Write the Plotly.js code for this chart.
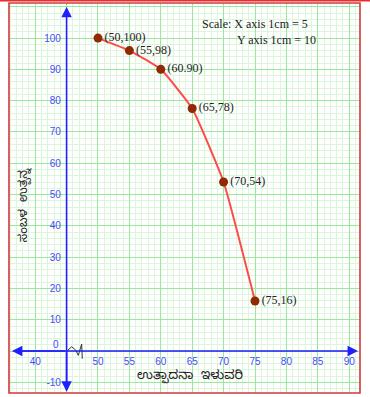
<!DOCTYPE html>
<html>
<head>
<meta charset="utf-8">
<script src="https://cdn.plot.ly/plotly-3.0.1.min.js"></script>
<style>html,body{margin:0;padding:0;background:#fff;}#chart{width:370px;height:397px;}</style>
</head>
<body>
<div id="chart"></div>
<script>
// ---- data ----
const xValues = [50, 55, 60, 65, 70, 75];
const yValues = [100, 96, 90, 77.5, 54, 16];
const pointLabels = ["(50,100)", "(55,98)", "(60.90)", "(65,78)", "(70,54)", "(75,16)"];
const xTickVals = [40, 45, 50, 55, 60, 65, 70, 75, 80, 85, 90];
const xTickText = ["40", "", "50", "55", "60", "65", "70", "75", "80", "85", "90"];
const yTickVals = [-10, 0, 10, 20, 30, 40, 50, 60, 70, 80, 90, 100, 110];
const yTickText = ["-10", "", "10", "20", "30", "40", "50", "60", "70", "80", "90", "100", ""];
const xTitle = "ಉತ್ಪಾದನಾ  ಇಳುವರಿ";
const yTitle = "ಸಂಬಳ  ಉತ್ಪನ್ನ";
const scaleLines = ["Scale: X axis 1cm = 5", "Y axis 1cm = 10"];

const X0 = 35.83, X1 = 91.72, Y0 = -13.4, Y1 = 111.2;
const axisBlue = "#1f1fff";
const tickBlue = "#4a4aff";

const trace = {
  x: xValues, y: yValues, text: pointLabels,
  type: "scatter", mode: "lines+markers+text",
  line: {color: "#ff4a4a", width: 2, shape: "spline", smoothing: 0.4},
  marker: {color: "#8f2a05", size: 9},
  textposition: "middle right",
  textfont: {family: "Liberation Serif, Times New Roman, serif", size: 12, color: "#222"},
  cliponaxis: false, hoverinfo: "none"
};

const arrowCommon = {xref: "x", yref: "y", axref: "x", ayref: "y", showarrow: true,
  arrowhead: 2, arrowsize: 1.3, arrowwidth: 1.6, arrowcolor: axisBlue, text: ""};

const layout = {
  width: 370, height: 397,
  margin: {l: 9, r: 10, t: 3, b: 4},
  paper_bgcolor: "#fff", plot_bgcolor: "#fff",
  showlegend: false,
  xaxis: {
    range: [X0, X1], tickmode: "array", tickvals: xTickVals, ticktext: xTickText,
    showgrid: true, gridcolor: "#9be89b", gridwidth: 1,
    minor: {dtick: 1, tick0: 0, showgrid: true, gridcolor: "#dcf6dc", gridwidth: 1},
    zeroline: false, showline: false,
    anchor: "free", position: 0.1077,
    ticks: "outside", ticklen: 1, tickcolor: "rgba(0,0,0,0)",
    tickfont: {family: "Liberation Sans, Arial, sans-serif", size: 10, color: tickBlue},
    fixedrange: true
  },
  yaxis: {
    range: [Y0, Y1], tickmode: "array", tickvals: yTickVals, ticktext: yTickText,
    showgrid: true, gridcolor: "#9be89b", gridwidth: 1,
    minor: {dtick: 2, tick0: 0, showgrid: true, gridcolor: "#dcf6dc", gridwidth: 1},
    zeroline: false, showline: false,
    anchor: "free", position: 0.165,
    ticks: "outside", ticklen: 4, tickcolor: "rgba(0,0,0,0)",
    tickfont: {family: "Liberation Sans, Arial, sans-serif", size: 10, color: tickBlue},
    fixedrange: true
  },
  shapes: [
    {type: "rect", xref: "paper", yref: "paper", x0: 0, x1: 1, y0: 0, y1: 1,
     line: {color: "#d23a3a", width: 1.6}, layer: "above"},
    {type: "line", xref: "paper", yref: "paper", x0: -0.03, x1: 1.03, y0: 1.0064, y1: 1.0064,
     line: {color: "#ee2a2a", width: 2}},
    {type: "path", xref: "x", yref: "y",
     path: "M45.06,0 L45.81,1.37 L46.45,0.32 L46.86,-1.37 L47.40,2.24 L47.50,-2.46",
     line: {color: "#333", width: 1}}
  ],
  annotations: [
    Object.assign({}, arrowCommon, {x: 45, y: 110.0, ax: 45, ay: -13.0}),
    Object.assign({}, arrowCommon, {x: 45, y: -13.0, ax: 45, ay: 0}),
    Object.assign({}, arrowCommon, {x: 91.4, y: 0, ax: 36.3, ay: 0}),
    Object.assign({}, arrowCommon, {x: 36.3, y: 0, ax: 45, ay: 0}),
    {xref: "x", yref: "y", x: 45, y: 0, text: "0", showarrow: false, xanchor: "right", yanchor: "bottom",
     xshift: -6, yshift: -1, font: {family: "Liberation Sans, Arial, sans-serif", size: 10, color: tickBlue}},
    {xref: "paper", yref: "paper", x: 0.544, y: 0.946, xanchor: "left", yanchor: "middle", showarrow: false,
     text: scaleLines[0], font: {family: "Liberation Serif, Times New Roman, serif", size: 12, color: "#222"}},
    {xref: "paper", yref: "paper", x: 0.644, y: 0.905, xanchor: "left", yanchor: "middle", showarrow: false,
     text: scaleLines[1], font: {family: "Liberation Serif, Times New Roman, serif", size: 12, color: "#222"}},
    {xref: "paper", yref: "paper", x: 0.515, y: 0.041, xanchor: "center", yanchor: "middle", showarrow: false,
     text: xTitle, font: {family: "Noto Sans Kannada, Noto Sans, sans-serif", size: 13, color: "#222"}},
    {xref: "paper", yref: "paper", x: 0.046, y: 0.482, xanchor: "center", yanchor: "middle", showarrow: false,
     textangle: -90, text: yTitle, font: {family: "Noto Sans Kannada, Noto Sans, sans-serif", size: 12, color: "#222"}}
  ]
};

Plotly.newPlot("chart", [trace], layout, {displayModeBar: false, staticPlot: true});
</script>
</body>
</html>
